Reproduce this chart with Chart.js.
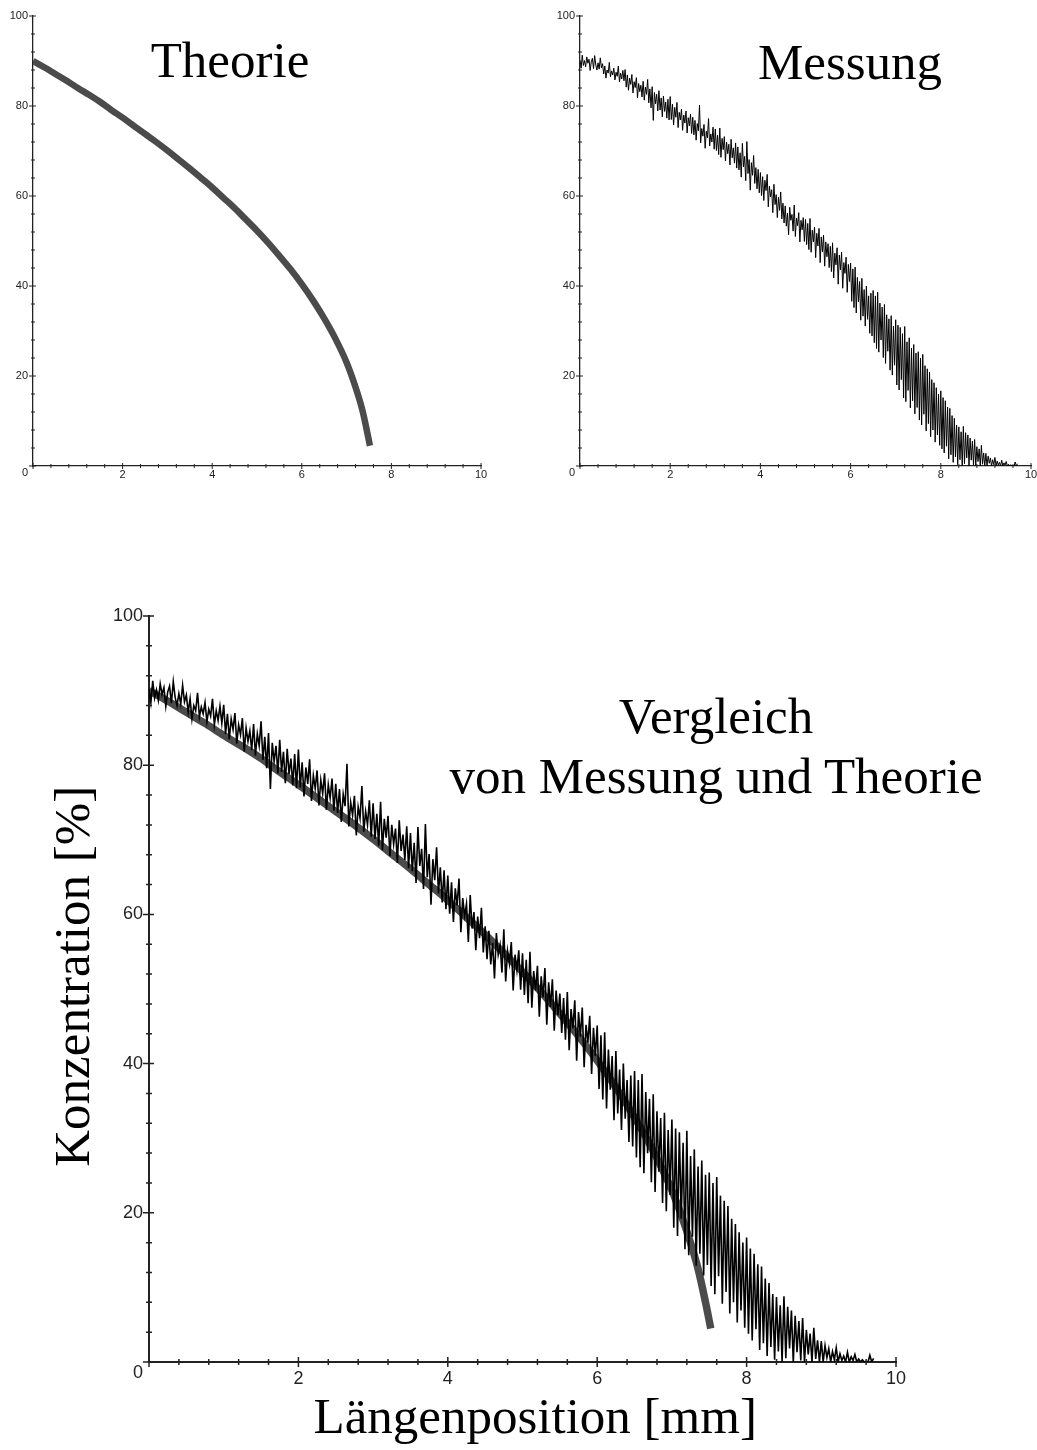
<!DOCTYPE html>
<html lang="de">
<head>
<meta charset="utf-8">
<title>Vergleich von Messung und Theorie</title>
<script src="https://cdn.jsdelivr.net/npm/chart.js@4.4.1/dist/chart.umd.min.js"></script>
<style>
  html, body { margin: 0; padding: 0; background: #fff; }
  #page { position: relative; width: 1037px; height: 1450px; overflow: hidden; }
  canvas { position: absolute; }
  .label {
    position: absolute;
    font-family: "Liberation Serif", "Times New Roman", serif;
    font-size: 51px;
    color: #000;
    text-align: center;
    white-space: nowrap;
  }
</style>
</head>
<body>
<div id="page">
  <canvas id="theoryChart" width="520" height="500" style="left:0px;top:0px"></canvas>
  <canvas id="measureChart" width="507" height="500" style="left:530px;top:0px"></canvas>
  <canvas id="compareChart" width="1037" height="890" style="left:0px;top:560px"></canvas>
  <div class="label" style="left:130px;top:35px;width:200px;line-height:51px">Theorie</div>
  <div class="label" style="left:750px;top:37px;width:200px;line-height:51px">Messung</div>
  <div class="label" style="left:416px;top:686px;width:600px;line-height:60px">Vergleich<br>von Messung und Theorie</div>
</div>
<script>
// theory curve, position in mm and concentration in %
const theoryX = [0, 0.25, 0.5, 0.75, 1, 1.25, 1.5, 1.75, 2, 2.25, 2.5, 2.75, 3, 3.25, 3.5, 3.75,
  4, 4.25, 4.5, 4.75, 5, 5.25, 5.5, 5.75, 6, 6.25, 6.5, 6.75, 7, 7.2, 7.35, 7.45, 7.52];
const theoryY = [90, 88.6, 87.1, 85.6, 84.0, 82.5, 80.9, 79.1, 77.4, 75.6, 73.8, 72.0, 70.1, 68.1, 66.1, 64.0,
  61.9, 59.6, 57.3, 54.8, 52.3, 49.6, 46.7, 43.7, 40.4, 36.8, 32.8, 28.3, 23.0, 17.5, 12.5, 8.0, 4.5];

// measurement, one sample every 0.025 mm starting at 0 (one row = 0.5 mm)
const measStep = 0.025;
const measured = [
  90.2, 88.4, 91.3, 89.0, 90.1, 88.7, 90.9, 89.5, 90.4, 87.9, 89.8, 90.6, 88.3, 91.2, 89.1, 88.0, 89.6, 88.2, 90.7, 88.5,
  89.4, 87.1, 88.9, 86.2, 88.0, 87.3, 89.7, 86.5, 87.8, 86.9, 88.4, 85.8, 87.5, 86.6, 88.9, 85.4, 87.3, 86.0, 87.9, 85.6,
  88.1, 84.2, 86.9, 83.5, 86.2, 84.8, 87.0, 82.9, 85.4, 84.1, 86.3, 81.8, 85.0, 83.2, 84.6, 82.0, 85.5, 81.3, 84.2, 82.6,
  85.9, 80.7, 83.8, 79.6, 84.3, 76.8, 83.0, 80.5, 82.6, 78.9, 83.4, 79.1, 81.8, 77.6, 82.2, 78.8, 80.9, 77.3, 81.5, 76.9,
  82.1, 77.0, 80.4, 75.8, 79.7, 77.5, 80.8, 75.2, 78.6, 76.9, 79.3, 74.6, 78.0, 76.2, 78.9, 74.0, 77.4, 75.6, 78.2, 73.9,
  77.5, 73.6, 76.8, 72.4, 76.1, 74.5, 80.2, 71.8, 75.0, 73.3, 75.9, 70.6, 74.4, 72.9, 77.2, 71.1, 73.8, 72.0, 75.3, 70.4,
  74.9, 70.1, 73.5, 69.2, 75.1, 68.6, 72.8, 70.3, 73.2, 67.8, 72.0, 69.4, 71.5, 66.9, 72.6, 68.5, 70.7, 67.3, 71.8, 66.2,
  70.9, 65.8, 69.6, 64.2, 71.7, 66.5, 68.8, 63.4, 72.1, 65.0, 68.1, 61.3, 67.4, 64.6, 69.0, 62.8, 66.3, 61.6, 65.9, 60.7,
  65.2, 60.1, 64.3, 59.0, 63.5, 61.2, 64.8, 57.6, 62.2, 59.8, 61.4, 56.3, 62.6, 58.1, 60.3, 55.2, 59.7, 56.8, 60.9, 54.9,
  58.4, 54.0, 57.8, 53.3, 56.2, 51.4, 57.5, 54.6, 55.9, 52.2, 58.0, 51.0, 55.1, 53.4, 56.3, 49.8, 54.6, 52.5, 55.2, 49.9,
  54.8, 49.2, 53.9, 48.1, 55.0, 47.5, 52.4, 49.8, 53.1, 46.3, 51.7, 48.9, 52.8, 45.2, 50.9, 47.6, 51.3, 44.4, 49.8, 46.5,
  49.4, 44.1, 48.8, 43.2, 49.6, 41.8, 47.3, 44.7, 48.5, 40.4, 46.9, 43.6, 47.5, 39.5, 45.2, 42.8, 46.4, 38.6, 44.8, 41.0,
  45.1, 36.6, 43.8, 35.2, 44.2, 34.0, 41.9, 36.5, 41.0, 32.4, 41.7, 33.3, 39.2, 31.1, 40.0, 32.6, 37.8, 29.5, 38.4, 28.9,
  39.0, 27.4, 37.8, 26.1, 38.6, 25.3, 36.2, 28.0, 35.3, 24.1, 35.9, 22.8, 33.6, 25.5, 32.7, 21.3, 33.4, 20.2, 31.1, 22.4,
  32.5, 18.0, 31.3, 16.9, 30.8, 19.2, 29.4, 15.1, 31.0, 14.3, 27.6, 16.8, 28.5, 12.9, 26.2, 14.5, 27.0, 11.6, 25.1, 13.0,
  25.4, 10.2, 24.0, 9.1, 24.8, 11.5, 22.3, 7.8, 21.6, 9.4, 20.9, 6.5, 19.2, 8.0, 18.5, 5.3, 17.4, 6.9, 16.0, 4.6,
  16.7, 3.8, 15.2, 2.9, 14.5, 4.4, 13.1, 1.6, 12.8, 2.5, 11.2, 0.8, 10.6, 2.0, 9.1, 0.3, 8.7, 1.4, 7.6, 0.0,
  8.8, 0.5, 7.4, 1.8, 6.9, 0.0, 6.2, 1.3, 5.5, 0.2, 5.9, 0.0, 4.3, 1.0, 3.8, 0.0, 4.6, 0.4, 2.9, 0.0,
  2.8, 0.0, 2.2, 0.6, 1.8, 0.0, 1.4, 0.3, 1.9, 0.0, 1.1, 0.2, 0.8, 0.0, 1.3, 0.0, 0.7, 0.2, 1.0, 0.0,
  0.4, 0.0, 0.3, 0.0, 0.1, 0.0, 0.9, 0.0, 0.5
];

const xRange = [0, 10];
const yRange = [0, 100];
const xStep = 0.4;   // minor tick spacing, labels every 2
const yStep = 4;     // minor tick spacing, labels every 20

const theoryPoints = theoryY.map((y, i) => ({ x: theoryX[i], y: y }));
const measPoints = measured.map((y, i) => ({ x: Math.round(i * measStep * 1000) / 1000, y: y }));

const isMajorX = (v) => Math.round(v * 10) % 20 === 0;
const isMajorY = (v) => Math.round(v) % 20 === 0;

// tick marks that cross the axis line, like the original plot program
const crossTicks = {
  id: "crossTicks",
  afterDraw(chart, args, opts) {
    const { ctx, chartArea } = chart;
    const xs = chart.scales.x;
    const ys = chart.scales.y;
    ctx.save();
    ctx.strokeStyle = "#222";
    ctx.lineWidth = opts.width;
    ctx.beginPath();
    xs.ticks.forEach((t) => {
      const px = xs.getPixelForValue(t.value);
      const len = isMajorX(t.value) ? opts.major : opts.minor;
      ctx.moveTo(px, chartArea.bottom - len);
      ctx.lineTo(px, chartArea.bottom + len);
    });
    ys.ticks.forEach((t) => {
      const py = ys.getPixelForValue(t.value);
      const len = isMajorY(t.value) ? opts.major : opts.minor;
      ctx.moveTo(chartArea.left - len - (isMajorY(t.value) ? 1 : 0), py);
      ctx.lineTo(chartArea.left + len, py);
    });
    ctx.stroke();
    ctx.restore();
  },
};

const makeScales = function (cfg) {
  const tickFont = { family: "'Liberation Sans', Arial, sans-serif", size: cfg.fontSize, lineHeight: 1.2 };
  return {
    x: {
      type: "linear",
      min: xRange[0],
      max: xRange[1],
      afterFit: (s) => { s.height = cfg.xHeight; s.paddingLeft = 0; s.paddingRight = 0; },
      grid: { display: false, drawTicks: false },
      border: { display: true, color: "#222", width: cfg.axisWidth },
      ticks: {
        stepSize: xStep,
        autoSkip: false,
        maxRotation: 0,
        padding: cfg.xPad,
        color: "#222",
        font: tickFont,
        callback: (v) => (isMajorX(v) && v !== 0 ? String(Math.round(v)) : ""),
      },
      title: cfg.xTitle
        ? {
            display: true,
            text: cfg.xTitle,
            color: "#000",
            font: { family: "'Liberation Serif', 'Times New Roman', serif", size: 51 },
            padding: { top: 0, bottom: 0 },
          }
        : { display: false },
    },
    y: {
      type: "linear",
      min: yRange[0],
      max: yRange[1],
      afterFit: (s) => { s.width = cfg.yWidth; s.paddingTop = 0; s.paddingBottom = 0; },
      grid: { display: false, drawTicks: false },
      border: { display: true, color: "#222", width: cfg.axisWidth },
      ticks: {
        stepSize: yStep,
        autoSkip: false,
        padding: cfg.yPad,
        color: "#222",
        font: tickFont,
        // the zero sits a little below the corner in the original
        callback: (v) => (v === 0 ? ["", "0"] : isMajorY(v) ? String(v) : ""),
      },
      title: cfg.yTitle
        ? {
            display: true,
            text: cfg.yTitle,
            color: "#000",
            font: { family: "'Liberation Serif', 'Times New Roman', serif", size: 51 },
            padding: { top: 45, bottom: 0 },
          }
        : { display: false },
    },
  };
};

const baseOptions = function (cfg) {
  return {
    responsive: false,
    animation: false,
    devicePixelRatio: 1,
    layout: { padding: cfg.padding },
    plugins: {
      legend: { display: false },
      tooltip: { enabled: false },
      crossTicks: cfg.ticks,
    },
    elements: { point: { radius: 0 } },
    scales: makeScales(cfg),
  };
};

const theoryDataset = (width) => ({
  label: "Theorie",
  data: theoryPoints,
  borderColor: "#4b4b4b",
  borderWidth: width,
  cubicInterpolationMode: "monotone",
  order: 1,
});

const measDataset = (width) => ({
  label: "Messung",
  data: measPoints,
  borderColor: "#000",
  borderWidth: width,
  tension: 0,
  order: 0,
});

new Chart(document.getElementById("theoryChart"), {
  type: "line",
  data: { datasets: [theoryDataset(6.5)] },
  options: baseOptions({
    padding: { left: 0, top: 16, right: 39, bottom: 0 },
    xHeight: 34, yWidth: 33, fontSize: 11, xPad: 2, yPad: 5, axisWidth: 1.3,
    ticks: { major: 3, minor: 2, width: 1 },
  }),
  plugins: [crossTicks],
});

new Chart(document.getElementById("measureChart"), {
  type: "line",
  data: { datasets: [measDataset(1)] },
  options: baseOptions({
    padding: { left: 0, top: 16, right: 6, bottom: 0 },
    xHeight: 34, yWidth: 50, fontSize: 11, xPad: 2, yPad: 5, axisWidth: 1.3,
    ticks: { major: 3, minor: 2, width: 1 },
  }),
  plugins: [crossTicks],
});

new Chart(document.getElementById("compareChart"), {
  type: "line",
  data: { datasets: [measDataset(1.6), theoryDataset(7.5)] },
  options: baseOptions({
    padding: { left: 0, top: 56, right: 141, bottom: 0 },
    xHeight: 88, yWidth: 149, fontSize: 18, xPad: 6, yPad: 6, axisWidth: 2,
    xTitle: "  Längenposition [mm]",
    yTitle: "  Konzentration [%]",
    ticks: { major: 5, minor: 3, width: 1.5 },
  }),
  plugins: [crossTicks],
});
</script>
</body>
</html>
